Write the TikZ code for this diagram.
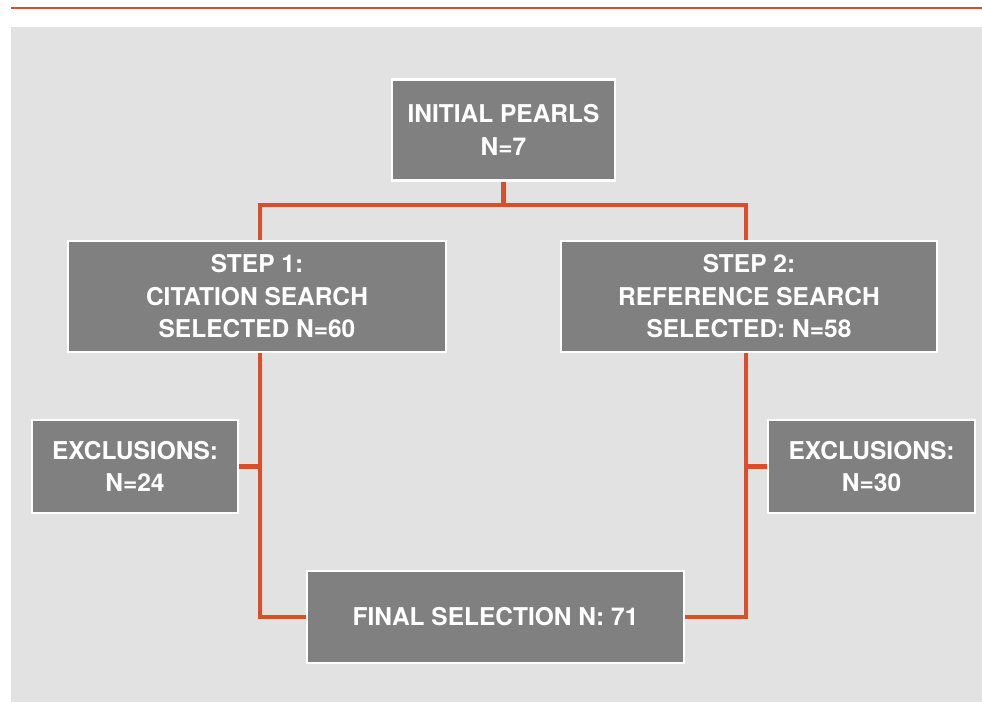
\documentclass[tikz,border=0pt]{standalone}
\usepackage{fontspec}
\setmainfont{TeX Gyre Heros}
\definecolor{bgpanel}{HTML}{E2E2E2}
\definecolor{boxgray}{HTML}{808080}
\definecolor{linkorange}{RGB}{219,78,40}
\pgfdeclarelayer{backdrop}
\pgfdeclarelayer{background}
\pgfsetlayers{backdrop,background,main}
\tikzset{
  flowbox/.style={draw=white, line width=2.2pt, fill=boxgray, text=white, inner sep=0pt,
    align=center, font=\fontsize{24.5}{32.5}\selectfont\bfseries},
  link/.style={draw=linkorange, line width=4.6pt}
}
\begin{document}
\begin{tikzpicture}[x=1pt, y=-1pt]
\useasboundingbox (0,0) rectangle (982,702);
\begin{pgfonlayer}{backdrop}
\fill[bgpanel] (11,27) rectangle (982,702);
\draw[linkorange, line width=2pt] (11,8) -- (982,8);
\end{pgfonlayer}

\node[flowbox, minimum width=223pt, minimum height=101pt] (init) at (503.5,130) {INITIAL PEARLS\\N=7};
\node[flowbox, minimum width=378pt, minimum height=111pt] (step1) at (257,296.5) {STEP 1:\\CITATION SEARCH\\SELECTED N=60};
\node[flowbox, minimum width=376pt, minimum height=111pt] (step2) at (749,296.5) {STEP 2:\\REFERENCE SEARCH\\SELECTED: N=58};
\node[flowbox, minimum width=206pt, minimum height=93pt] (excl1) at (135,466.5) {EXCLUSIONS:\\N=24};
\node[flowbox, minimum width=207pt, minimum height=93pt] (excl2) at (871.5,466.5) {EXCLUSIONS:\\N=30};
\node[flowbox, minimum width=377pt, minimum height=92pt] (final) at (495.5,617) {FINAL SELECTION N: 71};

\coordinate (jm) at (503.5,205);
\coordinate (jl) at (260,205);
\coordinate (jr) at (746,205);

\begin{pgfonlayer}{background}
\draw[link] (init.south) -- (jm);
\draw[link] (step1.north -| jl) -- (jl) -- (jr) -- (step2.north -| jr);
\draw[link] (step1.south -| jl) -- (final.west -| jl) -- (final.west);
\draw[link] (step2.south -| jr) -- (final.east -| jr) -- (final.east);
\draw[link] (excl1.east) -- (excl1.east -| jl);
\draw[link] (excl2.west) -- (excl2.west -| jr);
\end{pgfonlayer}
\end{tikzpicture}
\end{document}
